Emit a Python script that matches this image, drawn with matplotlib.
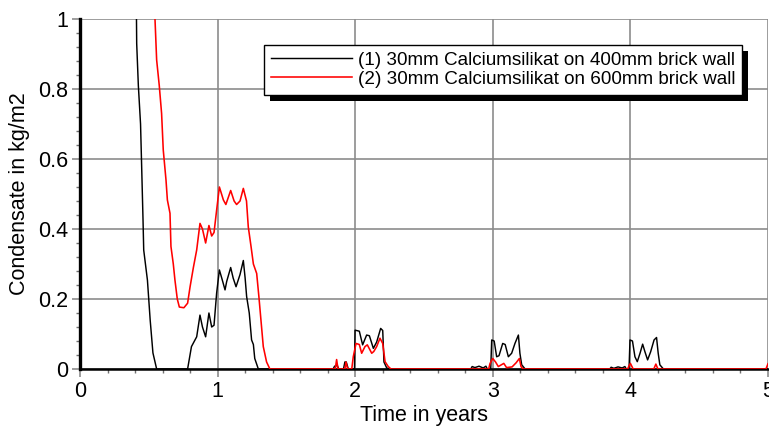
import numpy as np
import matplotlib.pyplot as plt
from matplotlib.ticker import MultipleLocator
import matplotlib.patheffects as pe

plt.rcParams['font.family'] = ['Liberation Sans', 'DejaVu Sans']

# series (1): 30mm Calciumsilikat on 400mm brick wall
t1 = [0.41, 0.412, 0.424, 0.44, 0.448, 0.458, 0.463, 0.49, 0.51, 0.53, 0.557,
      0.782, 0.81, 0.848, 0.872, 0.89, 0.913, 0.937, 0.957, 0.974, 0.993,
      1.013, 1.03, 1.054, 1.066, 1.095, 1.113, 1.134, 1.163, 1.187, 1.2,
      1.211, 1.23, 1.247, 1.26, 1.27, 1.296,
      1.84, 1.85, 1.87, 1.88, 1.915, 1.925, 1.935, 1.95,
      1.995, 1.999, 2.03, 2.054, 2.083, 2.103, 2.132, 2.156, 2.185, 2.2,
      2.209, 2.229, 2.25,
      2.84, 2.85, 2.87, 2.9, 2.93, 2.95, 2.96,
      2.985, 2.992, 3.01, 3.028, 3.045, 3.072, 3.09, 3.113, 3.137, 3.161,
      3.186, 3.197, 3.21, 3.235,
      3.85, 3.86, 3.88, 3.91, 3.94, 3.96, 3.97,
      3.99, 3.997, 4.015, 4.033, 4.05, 4.07, 4.089, 4.105, 4.125, 4.147,
      4.172, 4.19, 4.202, 4.214, 4.24, 5.0]
v1 = [1.02, 0.93, 0.81, 0.70, 0.58, 0.426, 0.34, 0.254, 0.14, 0.046, 0.0,
      0.0, 0.064, 0.092, 0.154, 0.12, 0.092, 0.16, 0.12, 0.125, 0.217,
      0.283, 0.26, 0.226, 0.25, 0.29, 0.26, 0.235, 0.27, 0.31, 0.26,
      0.207, 0.16, 0.083, 0.07, 0.03, 0.0,
      0.0, 0.008, 0.01, 0.0, 0.0, 0.02, 0.02, 0.0,
      0.0, 0.111, 0.108, 0.069, 0.097, 0.095, 0.059, 0.077, 0.116, 0.11,
      0.02, 0.003, 0.0,
      0.0, 0.007, 0.004, 0.008, 0.003, 0.008, 0.0,
      0.0, 0.083, 0.08, 0.035, 0.038, 0.073, 0.07, 0.035, 0.045, 0.073,
      0.097, 0.045, 0.012, 0.0,
      0.0, 0.005, 0.002, 0.006, 0.003, 0.007, 0.0,
      0.0, 0.083, 0.08, 0.035, 0.021, 0.045, 0.071, 0.05, 0.026, 0.049,
      0.083, 0.09, 0.045, 0.012, 0.0, 0.0]

# series (2): 30mm Calciumsilikat on 600mm brick wall
t2 = [0.54, 0.545, 0.557, 0.576, 0.593, 0.605, 0.625, 0.635, 0.654, 0.661,
      0.678, 0.69, 0.707, 0.722, 0.755, 0.782, 0.8, 0.824, 0.848, 0.872,
      0.89, 0.913, 0.937, 0.957, 0.974, 0.993, 1.013, 1.042, 1.06, 1.095,
      1.12, 1.138, 1.163, 1.187, 1.21, 1.223, 1.243, 1.26, 1.284, 1.3,
      1.315, 1.332, 1.356, 1.38,
      1.855, 1.865, 1.875, 1.925, 1.933, 1.945, 1.975, 1.986,
      2.006, 2.03, 2.047, 2.071, 2.088, 2.12, 2.135, 2.156, 2.18, 2.2,
      2.217, 2.24, 2.26,
      2.97, 2.98, 3.0, 3.02, 3.04, 3.08, 3.1, 3.14, 3.17, 3.193, 3.205,
      3.22,
      3.98, 3.99, 4.0, 4.02, 4.17, 4.185, 4.2,
      4.985, 5.0]
v2 = [1.02, 1.0, 0.883, 0.81, 0.73, 0.626, 0.54, 0.483, 0.445, 0.35,
      0.30, 0.254, 0.2, 0.177, 0.175, 0.188, 0.235, 0.29, 0.34, 0.416,
      0.40, 0.36, 0.41, 0.38, 0.39, 0.454, 0.52, 0.483, 0.47, 0.51,
      0.48, 0.47, 0.48, 0.516, 0.48, 0.406, 0.35, 0.30, 0.273, 0.207,
      0.14, 0.064, 0.02, 0.0,
      0.0, 0.027, 0.0, 0.0, 0.02, 0.0, 0.0, 0.035,
      0.073, 0.07, 0.045, 0.064, 0.069, 0.045, 0.05, 0.064, 0.088, 0.073,
      0.021, 0.007, 0.0,
      0.0, 0.016, 0.03, 0.02, 0.007, 0.016, 0.004, 0.006, 0.018, 0.03,
      0.007, 0.0,
      0.0, 0.009, 0.016, 0.0, 0.0, 0.014, 0.0,
      0.0, 0.015]

labels = ['(1) 30mm Calciumsilikat on 400mm brick wall',
          '(2) 30mm Calciumsilikat on 600mm brick wall']

fig = plt.figure(figsize=(7.69, 4.3), dpi=100)
ax = fig.add_axes([80 / 769, 61 / 430, 688 / 769, 350 / 430])

ax.plot(t1, v1, color='black', lw=1.05, label=labels[0], zorder=3)
ax.plot(t2, v2, color='red', lw=1.15, label=labels[1], zorder=4)

ax.set_xlim(0, 5)
ax.set_ylim(0, 1)
ax.xaxis.set_major_locator(MultipleLocator(1))
ax.xaxis.set_minor_locator(MultipleLocator(0.2))
ax.yaxis.set_minor_locator(MultipleLocator(0.04))
ax.set_yticks([0, 0.2, 0.4, 0.6, 0.8, 1.0])
ax.set_yticklabels(['0', '0.2', '0.4', '0.6', '0.8', '1'])

ax.grid(True, which='major', color='#8c8c8c', lw=1.2)
ax.set_axisbelow(True)
for s in ['top', 'right']:
    ax.spines[s].set_visible(False)
ax.spines['left'].set_linewidth(2.4)
ax.spines['bottom'].set_linewidth(1.8)

ax.tick_params(which='major', direction='out', length=5.5, width=1.2,
               color='#8c8c8c', labelsize=15.5, pad=3)
ax.tick_params(which='minor', direction='out', length=3, width=1,
               color='#707070')

ax.set_xlabel('Time in years', fontsize=15.5, labelpad=2)
ax.set_ylabel('Condensate in kg/m2', fontsize=15.5, labelpad=6)

leg = ax.legend(loc='upper left', bbox_to_anchor=(264 / 769, 385 / 430),
                bbox_transform=fig.transFigure, borderaxespad=0,
                fontsize=13.6, frameon=True, fancybox=False,
                handlelength=4.3, handletextpad=0.3, labelspacing=0.1,
                borderpad=0.35)
frame = leg.get_frame()
frame.set_edgecolor('black')
frame.set_linewidth(1.0)
frame.set_alpha(1)
frame.set_path_effects([pe.SimplePatchShadow(offset=(4.5, -4.5),
                                             shadow_rgbFace='black', alpha=1),
                        pe.Normal()])
leg.set_zorder(10)

fig.savefig('out.png', dpi=100)
